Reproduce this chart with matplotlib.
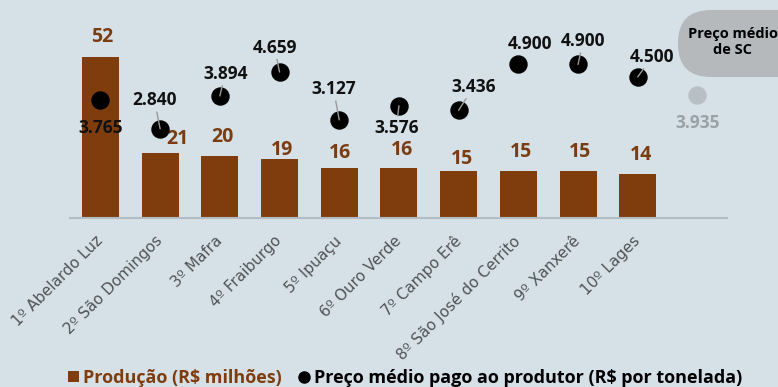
import numpy as np
import matplotlib.pyplot as plt
from matplotlib.patches import FancyBboxPatch, Patch
from matplotlib.lines import Line2D

# dados
municipios = ['1º Abelardo Luz', '2º São Domingos', '3º Mafra', '4º Fraiburgo', '5º Ipuaçu',
              '6º Ouro Verde', '7º Campo Erê', '8º São José do Cerrito', '9º Xanxerê', '10º Lages']
producao = [52, 21, 20, 19, 16, 16, 15, 15, 15, 14]          # R$ milhões
preco = [3765, 2840, 3894, 4659, 3127, 3576, 3436, 4900, 4900, 4500]  # R$ por tonelada
preco_sc = 3935

# posicao dos rotulos (pixels, relativo ao ponto)
preco_off = [(0, -27.7), (-5.7, 28.6), (5.3, 22), (-5, 24.4), (-5.7, 30.7),
             (-2.6, -21.7), (15, 23.4), (12, 20), (5, 23.3), (14.3, 20)]
leader = [False, True, True, True, True, True, True, False, True, True]
prod_off = [(2.2, 19.3), (17.3, 13.3), (2.6, 19), (2.2, 8.6), (0.3, 14.7),
            (3, 18), (3, 12.3), (2.4, 19), (2.3, 19), (3.2, 19.3)]

bg = '#d6e0e7'
marrom = '#7f3d0e'
num_font = 'Open Sans'

W, H = 778, 387
fig = plt.figure(figsize=(W / 100, H / 100), dpi=100, facecolor=bg)

# camada de fundo em pixels (balao "Preco medio de SC")
bgax = fig.add_axes([0, 0, 1, 1])
bgax.set_xlim(0, W)
bgax.set_ylim(H, 0)
bgax.axis('off')
bgax.add_patch(FancyBboxPatch((678 + 33, 10 + 33), 80, 1, boxstyle='round,pad=33',
                              facecolor='#b5b9bc', edgecolor='none'))
bgax.text(733, 42, 'Preço médio\nde SC', ha='center', va='center', fontsize=10.5,
          fontweight='bold', family=num_font, color='black', linespacing=1.1)

ax = fig.add_axes([70 / W, 1 - 217.7 / H, 656.7 / W, 207.7 / H])
ax.set_facecolor('none')
x = np.arange(len(municipios))
ax.bar(x, producao, width=0.62, color=marrom, zorder=2)
ax.set_xlim(-0.51, 10.49)
ax.set_ylim(0, 207.7 / 3.1)
for s in ['top', 'right', 'left']:
    ax.spines[s].set_visible(False)
ax.spines['bottom'].set_color('#b3bcc2')
ax.spines['bottom'].set_linewidth(1.5)
ax.set_yticks([])
ax.set_xticks(x)
ax.set_xticklabels(municipios, rotation=45, ha='right', va='center', rotation_mode='anchor',
                   fontsize=11, color='#4f5459', family='DejaVu Sans')
for lbl in ax.get_xticklabels():
    lbl.set_x(lbl.get_position()[0])
ax.tick_params(axis='x', length=0, pad=15)

for i, v in enumerate(producao):
    ax.annotate(str(v), (x[i], v), xytext=prod_off[i], textcoords='offset pixels',
                ha='center', va='center', fontsize=14, fontweight='bold',
                family=num_font, color='#7a3c10')

ax2 = ax.twinx()
ax2.set_ylim(0, 207.7 / 31.28 * 1000)
ax2.axis('off')
ax2.scatter(x, preco, s=150, color='black', zorder=3)
ax2.scatter([len(municipios)], [preco_sc], s=150, color='#b8c0c6', zorder=3)

def fmt(v):
    return f'{v:,}'.replace(',', '.')

for i, v in enumerate(preco):
    arrow = dict(arrowstyle='-', color='#9a9a9a', lw=1, shrinkA=0, shrinkB=0) if leader[i] else None
    ax2.annotate(fmt(v), (x[i], v), xytext=preco_off[i], textcoords='offset pixels',
                 ha='center', va='center', fontsize=12.5, fontweight='bold',
                 family=num_font, color='#111111', arrowprops=arrow, zorder=4)
ax2.annotate(fmt(preco_sc), (len(municipios), preco_sc), xytext=(0, -28.7),
             textcoords='offset pixels', ha='center', va='center', fontsize=12.5,
             fontweight='bold', family=num_font, color='#9aa2a8')

handles = [Patch(facecolor=marrom, edgecolor='none'),
           Line2D([], [], marker='o', color='black', linestyle='none', markersize=8)]
fig.legend(handles, ['Produção (R$ milhões)', 'Preço médio pago ao produtor (R$ por tonelada)'],
           loc='center', bbox_to_anchor=(405 / W, 1 - 378 / H), ncol=2, frameon=False,
           labelcolor=[marrom, 'black'], handlelength=0.6, handleheight=0.6,
           handletextpad=0.25, columnspacing=0.9,
           prop=dict(family=num_font, weight='bold', size=13))

fig.savefig('out.png', dpi=100, facecolor=bg)
